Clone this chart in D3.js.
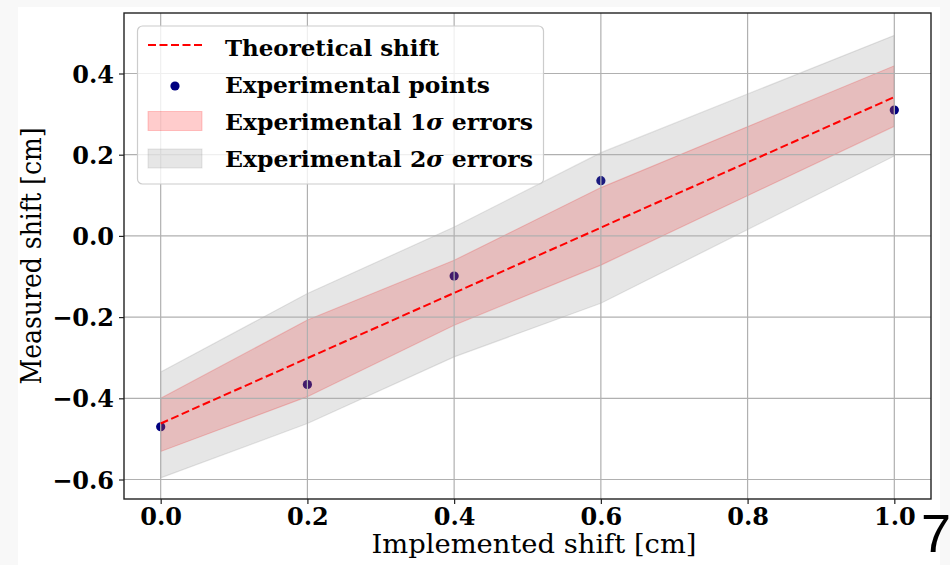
<!DOCTYPE html>
<html>
<head>
<meta charset="utf-8">
<script src="https://cdnjs.cloudflare.com/ajax/libs/d3/7.8.5/d3.min.js"></script>
<style>
  html, body { margin: 0; padding: 0; background: #f8f8f8; }
  svg { display: block; }
</style>
</head>
<body>
<div id="chart"></div>
<script>
// ---- data ----
var xPoints   = [0.0, 0.2, 0.4, 0.6, 1.0];
var measured  = [-0.470, -0.366, -0.099, 0.136, 0.310];
var sig1Low   = [-0.531, -0.396, -0.220, -0.072, 0.270];
var sig1High  = [-0.400, -0.207, -0.060, 0.119, 0.419];
var sig2Low   = [-0.596, -0.462, -0.298, -0.166, 0.197];
var sig2High  = [-0.335, -0.142, 0.022, 0.205, 0.494];
var theoryX   = [0.0, 1.0];
var theoryY   = [-0.462, 0.342];
var xTicks    = [0.0, 0.2, 0.4, 0.6, 0.8, 1.0];
var yTicks    = [-0.6, -0.4, -0.2, 0.0, 0.2, 0.4];

var W = 950, H = 565;
var plot = {left: 124, top: 13, right: 931, bottom: 499};

var svg = d3.select("#chart").append("svg")
  .attr("width", W).attr("height", H);

// page panel
svg.append("rect").attr("x", 0).attr("y", 0).attr("width", W).attr("height", H).attr("fill", "#f8f8f8");
svg.append("rect").attr("x", 18).attr("y", 7).attr("width", 922).attr("height", H - 7).attr("fill", "#ffffff");

var x = d3.scaleLinear().domain([-0.05, 1.05]).range([plot.left, plot.right]);
var y = d3.scaleLinear().domain([-0.648, 0.549]).range([plot.bottom, plot.top]);

var serif = "'DejaVu Serif', serif";

// scatter first (sits under the bands, as in the reference)
svg.append("g").selectAll("circle")
  .data(xPoints)
  .enter().append("circle")
  .attr("cx", function(d) { return x(d); })
  .attr("cy", function(d, i) { return y(measured[i]); })
  .attr("r", 4.6)
  .attr("fill", "#000080");

// error bands
var band = function(lo, hi) {
  return d3.area()
    .x(function(d) { return x(d); })
    .y0(function(d, i) { return y(lo[i]); })
    .y1(function(d, i) { return y(hi[i]); });
};
svg.append("path").datum(xPoints)
  .attr("d", band(sig1Low, sig1High))
  .attr("fill", "red").attr("fill-opacity", 0.2)
  .attr("stroke", "red").attr("stroke-opacity", 0.2).attr("stroke-width", 1.2);
svg.append("path").datum(xPoints)
  .attr("d", band(sig2Low, sig2High))
  .attr("fill", "#808080").attr("fill-opacity", 0.2)
  .attr("stroke", "#808080").attr("stroke-opacity", 0.2).attr("stroke-width", 1.2);

// grid
var grid = svg.append("g");
grid.selectAll(".gx").data(xTicks).enter().append("line")
  .attr("x1", function(d) { return x(d); }).attr("x2", function(d) { return x(d); })
  .attr("y1", plot.top).attr("y2", plot.bottom)
  .attr("stroke", "#b0b0b0").attr("stroke-width", 1.2);
grid.selectAll(".gy").data(yTicks).enter().append("line")
  .attr("y1", function(d) { return y(d); }).attr("y2", function(d) { return y(d); })
  .attr("x1", plot.left).attr("x2", plot.right)
  .attr("stroke", "#b0b0b0").attr("stroke-width", 1.2);

// theoretical line
svg.append("path").datum(theoryX)
  .attr("d", d3.line().x(function(d) { return x(d); }).y(function(d, i) { return y(theoryY[i]); }))
  .attr("fill", "none").attr("stroke", "#ff0000").attr("stroke-width", 2)
  .attr("stroke-dasharray", "8,3.5");

// axes
var fmt = d3.format(".1f");
var xAxis = svg.append("g").attr("transform", "translate(0," + plot.bottom + ")")
  .call(d3.axisBottom(x).tickValues(xTicks).tickFormat(fmt).tickSize(5).tickPadding(5));
var yAxis = svg.append("g").attr("transform", "translate(" + plot.left + ",0)")
  .call(d3.axisLeft(y).tickValues(yTicks).tickFormat(fmt).tickSize(5).tickPadding(5));
[xAxis, yAxis].forEach(function(a) {
  a.select(".domain").remove();
  a.selectAll(".tick line").attr("stroke", "#222").attr("stroke-width", 1.2);
  a.selectAll(".tick text").attr("fill", "#000")
    .style("font-family", serif).style("font-weight", "bold").style("font-size", "24px");
});
xAxis.selectAll(".tick text").attr("dy", "0.68em");
yAxis.selectAll(".tick text").attr("dy", "0.36em");

// frame
svg.append("rect")
  .attr("x", plot.left).attr("y", plot.top)
  .attr("width", plot.right - plot.left).attr("height", plot.bottom - plot.top)
  .attr("fill", "none").attr("stroke", "#222").attr("stroke-width", 1.4);

// axis labels
svg.append("text")
  .attr("x", 534).attr("y", 553)
  .attr("text-anchor", "middle")
  .style("font-family", serif).style("font-size", "26px")
  .attr("textLength", 325).attr("lengthAdjust", "spacingAndGlyphs")
  .text("Implemented shift [cm]");
svg.append("text")
  .attr("transform", "translate(41," + ((plot.top + plot.bottom) / 2) + ") rotate(-90)")
  .attr("text-anchor", "middle")
  .style("font-family", serif).style("font-size", "27px")
  .attr("textLength", 257).attr("lengthAdjust", "spacingAndGlyphs")
  .text("Measured shift [cm]");

// legend
var lg = svg.append("g");
lg.append("rect")
  .attr("x", 137.5).attr("y", 26).attr("width", 406).attr("height", 158)
  .attr("rx", 5).attr("ry", 5)
  .attr("fill", "#ffffff").attr("fill-opacity", 0.8)
  .attr("stroke", "#cccccc").attr("stroke-width", 1.2);

var rowBase = [55.5, 92.5, 130, 167];
lg.append("line").attr("x1", 148).attr("x2", 202).attr("y1", 45).attr("y2", 45)
  .attr("stroke", "#ff0000").attr("stroke-width", 2).attr("stroke-dasharray", "8,3.5");
lg.append("circle").attr("cx", 175).attr("cy", 86).attr("r", 4.6).attr("fill", "#000080");
lg.append("rect").attr("x", 148).attr("y", 111.5).attr("width", 54).attr("height", 19)
  .attr("fill", "red").attr("fill-opacity", 0.2).attr("stroke", "red").attr("stroke-opacity", 0.2);
lg.append("rect").attr("x", 148).attr("y", 149).attr("width", 54).attr("height", 19)
  .attr("fill", "#808080").attr("fill-opacity", 0.2).attr("stroke", "#808080").attr("stroke-opacity", 0.2);

var legendLabels = [
  ["Theoretical shift", "", ""],
  ["Experimental points", "", ""],
  ["Experimental 1", "σ", " errors"],
  ["Experimental 2", "σ", " errors"]
];
var legendWidths = [214, 265, 308, 308];
legendLabels.forEach(function(parts, i) {
  var t = lg.append("text").attr("x", 225).attr("y", rowBase[i])
    .style("font-family", serif).style("font-weight", "bold").style("font-size", "23px")
    .attr("textLength", legendWidths[i]).attr("lengthAdjust", "spacingAndGlyphs");
  t.append("tspan").text(parts[0]);
  if (parts[1]) t.append("tspan").style("font-style", "italic").text(parts[1]);
  if (parts[2]) t.append("tspan").text(parts[2]);
});

// page number
svg.append("text").attr("x", 921).attr("y", 552)
  .style("font-family", "'Liberation Sans', Arial, sans-serif").style("font-size", "54px")
  .text("7");
</script>
</body>
</html>
